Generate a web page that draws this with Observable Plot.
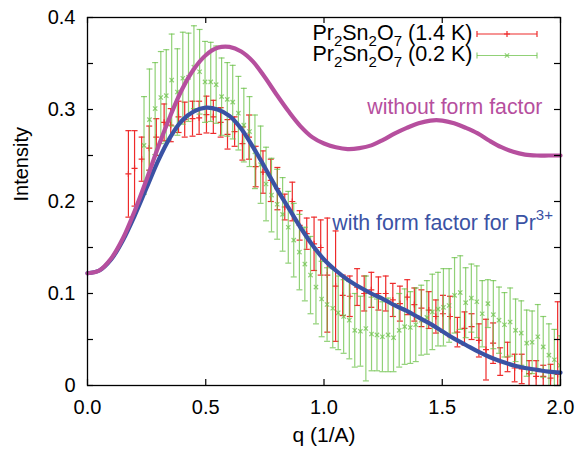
<!DOCTYPE html>
<html><head><meta charset="utf-8">
<script src="https://cdn.jsdelivr.net/npm/d3@7"></script>
<script src="https://cdn.jsdelivr.net/npm/@observablehq/plot@0.6"></script>
<style>html,body{margin:0;padding:0;background:#fff;} #chart{width:585px;height:452px;}</style>
</head><body><div id="chart"></div>
<script>
// ---- data ----
const redQ = [0.173,0.199,0.229,0.261,0.291,0.324,0.352,0.385,0.411,0.444,0.472,0.503,0.532,0.563,0.592,0.622,0.655,0.683,0.711,0.742,0.775,0.803,0.834,0.866,0.897,0.927,0.958,0.986,1.014,1.049,1.079,1.109,1.140,1.170,1.200,1.230,1.261,1.291,1.321,1.352,1.382,1.412,1.443,1.473,1.503,1.533,1.564,1.594,1.624,1.655,1.685,1.715,1.745,1.776,1.806,1.836,1.867,1.897,1.927,1.958,1.988];
const redI = [0.230,0.236,0.246,0.258,0.270,0.286,0.283,0.292,0.289,0.290,0.291,0.2945,0.292,0.286,0.273,0.276,0.263,0.270,0.238,0.232,0.223,0.214,0.194,0.200,0.174,0.165,0.154,0.150,0.120,0.108,0.098,0.097,0.107,0.100,0.104,0.100,0.100,0.093,0.089,0.096,0.088,0.084,0.082,0.075,0.078,0.075,0.058,0.062,0.064,0.049,0.039,0.046,0.026,0.031,0.019,0.018,0.013,0.010,0.010,0.008,0.012];
const redErr = [0.047,0.041,0.024,0.024,0.020,0.020,0.018,0.017,0.019,0.019,0.018,0.020,0.018,0.016,0.016,0.016,0.018,0.024,0.022,0.023,0.023,0.023,0.014,0.021,0.016,0.017,0.029,0.030,0.062,0.060,0.022,0.022,0.020,0.019,0.019,0.018,0.019,0.018,0.019,0.019,0.018,0.020,0.020,0.018,0.020,0.022,0.016,0.018,0.014,0.018,0.033,0.022,0.015,0.016,0.015,0.016,0.014,0.017,0.012,0.015,0.079];

const greenQ = [0.239,0.262,0.286,0.310,0.333,0.356,0.380,0.403,0.427,0.450,0.474,0.497,0.521,0.544,0.567,0.591,0.614,0.638,0.661,0.685,0.708,0.732,0.755,0.778,0.802,0.825,0.849,0.872,0.896,0.919,0.943,0.966,0.990,1.013,1.037,1.060,1.083,1.107,1.130,1.154,1.177,1.201,1.224,1.247,1.271,1.294,1.318,1.341,1.365,1.388,1.411,1.435,1.458,1.482,1.505,1.529,1.552,1.576,1.599,1.623,1.646,1.669,1.693,1.716,1.740,1.763,1.787,1.810,1.834,1.857,1.880,1.904,1.927,1.951,1.974,1.998];
const greenI = [0.261,0.289,0.301,0.313,0.315,0.332,0.319,0.334,0.335,0.346,0.341,0.330,0.330,0.327,0.314,0.311,0.308,0.296,0.283,0.276,0.254,0.240,0.219,0.207,0.197,0.186,0.172,0.158,0.145,0.132,0.120,0.107,0.094,0.088,0.084,0.079,0.075,0.071,0.060,0.059,0.062,0.056,0.055,0.053,0.055,0.052,0.060,0.064,0.063,0.066,0.071,0.074,0.080,0.083,0.085,0.087,0.098,0.101,0.090,0.095,0.091,0.078,0.089,0.077,0.071,0.066,0.069,0.060,0.057,0.046,0.047,0.053,0.042,0.033,0.028,0.022];
const greenErr = [0.053,0.055,0.050,0.050,0.050,0.050,0.047,0.050,0.048,0.045,0.046,0.044,0.043,0.042,0.042,0.040,0.040,0.040,0.040,0.038,0.040,0.042,0.040,0.040,0.038,0.040,0.039,0.040,0.041,0.040,0.042,0.040,0.041,0.040,0.043,0.040,0.040,0.042,0.040,0.038,0.057,0.040,0.039,0.038,0.040,0.037,0.040,0.041,0.039,0.040,0.038,0.040,0.041,0.040,0.042,0.040,0.041,0.040,0.038,0.037,0.039,0.036,0.026,0.037,0.036,0.035,0.037,0.034,0.035,0.036,0.034,0.035,0.033,0.034,0.033,0.032];

const curveQ = [0,0.05,0.1,0.15,0.2,0.25,0.3,0.35,0.4,0.45,0.5,0.55,0.6,0.65,0.7,0.75,0.8,0.85,0.9,0.95,1.0,1.05,1.1,1.15,1.2,1.25,1.3,1.35,1.4,1.45,1.5,1.55,1.6,1.65,1.7,1.75,1.8,1.85,1.9,1.95,2.0];
const withoutFF = [0.122,0.125,0.138,0.160,0.190,0.224,0.260,0.293,0.322,0.344,0.359,0.367,0.368,0.363,0.352,0.335,0.316,0.298,0.282,0.270,0.263,0.259,0.257,0.258,0.261,0.267,0.274,0.280,0.285,0.288,0.288,0.285,0.280,0.274,0.266,0.259,0.254,0.251,0.250,0.250,0.250];
const withFF = [0.122,0.125,0.137,0.158,0.185,0.215,0.245,0.270,0.288,0.298,0.302,0.300,0.293,0.279,0.259,0.237,0.214,0.193,0.172,0.153,0.137,0.125,0.115,0.107,0.100,0.094,0.087,0.081,0.074,0.067,0.059,0.051,0.044,0.037,0.031,0.026,0.022,0.019,0.017,0.015,0.014];

const xTicks = [0, 0.5, 1.0, 1.5, 2.0];
const xTickLabels = ["0.0", "0.5", "1.0", "1.5", "2.0"];
const yTicks = [0, 0.05, 0.1, 0.15, 0.2, 0.25, 0.3, 0.35, 0.4];
const yLabelTicks = [0, 0.1, 0.2, 0.3, 0.4];
const yTickLabels = ["0", "0.1", "0.2", "0.3", "0.4"];

const annotQ = [1.183, 1.035];
const annotI = [0.303, 0.176];
const annotText = ["without form factor", "with form factor for Pr"];

// ---- styles ----
const RED = "#ee2a2a", GREEN = "#6cc24a", MAG = "#b64f9e", BLUE = "#3a52a4";
const W = 585, H = 452, ML = 87, MR = 25, MT = 17, MB = 67;
const innerW = W - ML - MR, innerH = H - MT - MB;

const red = redQ.map((q, i) => ({q, I: redI[i], e: redErr[i]}));
const green = greenQ.map((q, i) => ({q, I: greenI[i], e: greenErr[i]}));
const curve = curveQ.map((q, i) => ({q, a: withoutFF[i], b: withFF[i]}));
const annots = annotQ.map((q, i) => ({q, I: annotI[i], t: annotText[i], c: i === 0 ? MAG : BLUE}));

const cap = {draw(ctx, size) { const w = Math.sqrt(size / Math.PI); ctx.moveTo(-w, 0); ctx.lineTo(w, 0); }};

function errMarks(data, color, sym, symR, op) {
  return [
    Plot.ruleX(data, {x: "q", y1: d => d.I - d.e, y2: d => d.I + d.e, stroke: color, strokeWidth: 1.2, strokeOpacity: op, clip: true}),
    Plot.dot(data, {x: "q", y: d => d.I + d.e, symbol: cap, r: 3, stroke: color, fill: "none", strokeWidth: 1.2, strokeOpacity: op, clip: true}),
    Plot.dot(data, {x: "q", y: d => d.I - d.e, symbol: cap, r: 3, stroke: color, fill: "none", strokeWidth: 1.2, strokeOpacity: op, clip: true}),
    Plot.dot(data, {x: "q", y: "I", symbol: sym, r: symR, stroke: color, fill: "none", strokeWidth: 1.2, strokeOpacity: op, clip: true})
  ];
}

const svg = Plot.plot({
  width: W, height: H,
  marginLeft: ML, marginRight: MR, marginTop: MT, marginBottom: MB,
  x: {domain: [0, 2]},
  y: {domain: [0, 0.4]},
  style: {fontFamily: "'Liberation Sans', Arial, sans-serif", fontSize: "20px", background: "white", color: "black"},
  marks: [
    ...errMarks(red, RED, "plus", 2.1, 1),
    ...errMarks(green, GREEN, "times", 2.1, 0.75),
    Plot.line(curve, {x: "q", y: "b", stroke: BLUE, strokeWidth: 4.2, curve: "catmull-rom"}),
    Plot.line(curve, {x: "q", y: "a", stroke: MAG, strokeWidth: 4.2, curve: "catmull-rom"}),
    Plot.frame({stroke: "black", strokeWidth: 1.3}),
    Plot.tickX(xTicks, {x: d => d, insetTop: innerH - 6, stroke: "black", strokeWidth: 1.2}),
    Plot.tickX(xTicks, {x: d => d, insetBottom: innerH - 6, stroke: "black", strokeWidth: 1.2}),
    Plot.tickY(yTicks, {y: d => d, insetRight: innerW - 6, stroke: "black", strokeWidth: 1.2}),
    Plot.tickY(yTicks, {y: d => d, insetLeft: innerW - 6, stroke: "black", strokeWidth: 1.2}),
    Plot.axisX({ticks: xTicks, tickFormat: d => xTickLabels[xTicks.indexOf(d)], tickSize: 0, tickPadding: 14, label: null}),
    Plot.axisY({ticks: yLabelTicks, tickFormat: d => yTickLabels[yLabelTicks.indexOf(d)], tickSize: 0, tickPadding: 12, label: null}),
    Plot.text(["q (1/A)"], {text: d => d, frameAnchor: "bottom", dy: 56, fill: "black", fontSize: 21}),
    Plot.text(["Intensity"], {text: d => d, frameAnchor: "left", rotate: -90, dx: -66, fill: "black", fontSize: 20}),
    Plot.text(annots, {x: "q", y: "I", text: "t", fill: "c", textAnchor: "start", fontSize: 21.3})
  ]
});

// superscript for Pr3+
d3.select(svg).selectAll("text")
  .filter(function() { return this.textContent === "with form factor for Pr"; })
  .append("tspan").attr("dy", -10).attr("font-size", 15).text("3+");

// legend (top right, inside the frame)
const leg = d3.select(svg).append("g").attr("class", "legend");
const rows = [
  {label: ["Pr", "2", "Sn", "2", "O", "7", " (1.4 K)"], color: RED, sym: "plus", op: 1},
  {label: ["Pr", "2", "Sn", "2", "O", "7", " (0.2 K)"], color: GREEN, sym: "times", op: 0.75}
];
rows.forEach((r, i) => {
  const ly = 34 + i * 21.5;
  const t = leg.append("text").attr("x", 472.5).attr("y", ly + 5.5).attr("text-anchor", "end")
    .attr("font-size", 21.5).attr("fill", "black").attr("xml:space", "preserve");
  let down = false;
  r.label.forEach((s, j) => {
    const sub = j % 2 === 1 && j < 6;
    const ts = t.append("tspan").text(s);
    if (sub) { ts.attr("font-size", 15).attr("dy", 6); down = true; }
    else if (down) { ts.attr("dy", -6); down = false; }
  });
  const g = leg.append("g").attr("stroke", r.color).attr("stroke-width", 1.2).attr("stroke-opacity", r.op).attr("fill", "none");
  g.append("line").attr("x1", 477).attr("x2", 537).attr("y1", ly).attr("y2", ly);
  g.append("line").attr("x1", 477).attr("x2", 477).attr("y1", ly - 3).attr("y2", ly + 3);
  g.append("line").attr("x1", 537).attr("x2", 537).attr("y1", ly - 3).attr("y2", ly + 3);
  const sym = r.sym === "plus" ? d3.symbolPlus : d3.symbolTimes;
  const size = Math.PI * 2.1 * 2.1;
  g.append("path").attr("transform", `translate(507,${ly})`).attr("d", d3.symbol(sym, size)());
});

document.getElementById("chart").appendChild(svg);
</script>
</body></html>
